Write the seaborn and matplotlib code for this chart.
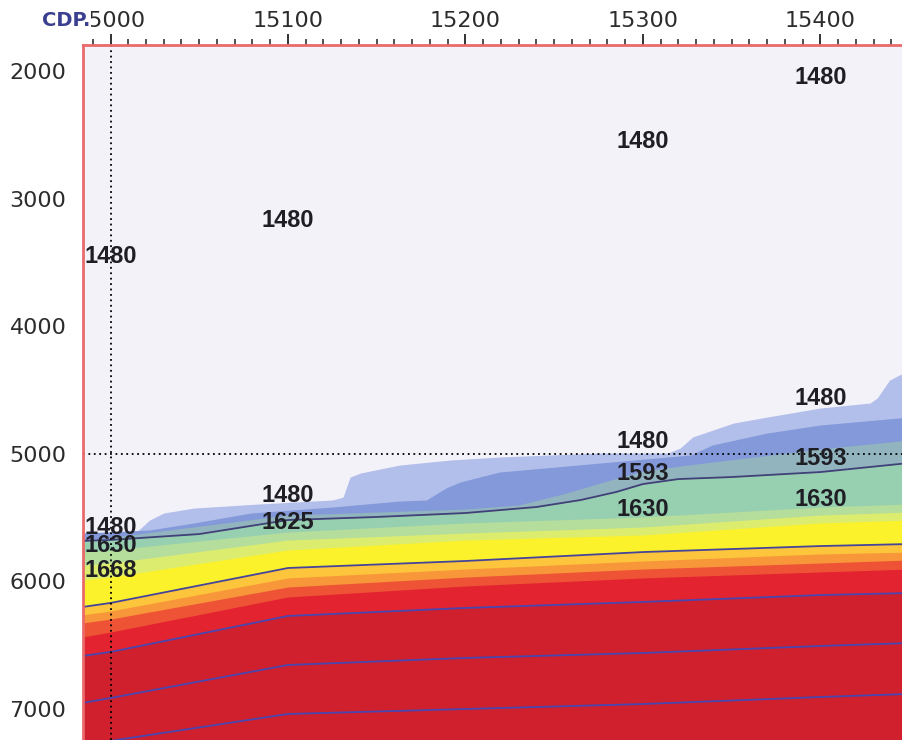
import numpy as np
import matplotlib
matplotlib.use("Agg")
import matplotlib.pyplot as plt
from matplotlib.ticker import MultipleLocator
import seaborn as sns

# ---- interval velocity section: interface depths (m) along CDP ----
# deeper, smooth interfaces share one set of control CDPs
cdp_deep = [14984, 15000, 15100, 15200, 15300, 15400, 15450]
light_green_top = [5770, 5754, 5613, 5542, 5495, 5417, 5393]
yellow_green_top = [5871, 5856, 5676, 5621, 5574, 5480, 5456]
yellow_top = [5989, 5966, 5754, 5676, 5636, 5542, 5519]
orange_yellow_top = [6201, 6169, 5895, 5840, 5770, 5723, 5707]
orange_top = [6263, 6232, 5973, 5903, 5840, 5785, 5770]
red_orange_top = [6326, 6295, 6044, 5966, 5903, 5856, 5832]
red_top = [6436, 6397, 6122, 6036, 5973, 5926, 5903]
horizon_3 = [6585, 6553, 6271, 6208, 6161, 6107, 6091]
horizon_4 = [6953, 6914, 6655, 6600, 6561, 6506, 6483]
horizon_5 = [7289, 7250, 7039, 7000, 6961, 6906, 6882]

# first picked horizon (top of the green layer)
cdp_h1 = [14984, 15000, 15050, 15100, 15150, 15200, 15240, 15265, 15285,
          15300, 15320, 15350, 15400, 15450]
horizon_1 = [5683, 5675, 5629, 5519, 5495, 5464, 5417, 5362, 5299,
             5237, 5198, 5182, 5143, 5072]

# blue-green layer above the first horizon
cdp_teal = [14984, 15100, 15200, 15230, 15255, 15280, 15300, 15330, 15400, 15450]
teal_top = [5683, 5480, 5433, 5401, 5315, 5213, 5135, 5080, 4962, 4892]

# medium blue layer
cdp_mblue = [14984, 15022, 15047, 15079, 15125, 15163, 15178, 15189, 15197,
             15219, 15276, 15314, 15327, 15339, 15370, 15400, 15450]
mblue_top = [5621, 5597, 5542, 5464, 5417, 5370, 5362, 5268, 5221,
             5143, 5072, 5025, 5009, 4931, 4837, 4774, 4712]

# light blue layer (sea floor of the water column)
cdp_lblue = [14984, 15014, 15022, 15030, 15047, 15084, 15125, 15131, 15135,
             15141, 15163, 15191, 15219, 15248, 15276, 15314, 15321, 15328,
             15351, 15370, 15400, 15428, 15432, 15439, 15450]
lblue_top = [5621, 5621, 5519, 5464, 5425, 5393, 5362, 5340, 5182,
             5150, 5088, 5049, 5025, 5009, 4994, 4994, 4955, 4868,
             4759, 4712, 4641, 4602, 4563, 4422, 4343]

# velocity annotations (m/s) at analysis locations
label_cdp = [15000, 15100, 15300, 15400, 15400, 15300, 15300, 15300,
             15400, 15400, 15100, 15100, 15000, 15000, 15000]
label_depth = [3450, 3168, 2549, 2047, 4563, 4900, 5158, 5440,
               5033, 5362, 5323, 5542, 5581, 5715, 5918]
label_text = ["1480", "1480", "1480", "1480", "1480", "1480", "1593", "1630",
              "1593", "1630", "1480", "1625", "1480", "1630", "1668"]

water_colour = "#f4f2f9"
layers = [
    (cdp_lblue, lblue_top, "#b3bfeb"),
    (cdp_mblue, mblue_top, "#8399d9"),
    (cdp_teal, teal_top, "#91b4bf"),
    (cdp_h1, horizon_1, "#97cfb1"),
    (cdp_deep, light_green_top, "#b5dd9c"),
    (cdp_deep, yellow_green_top, "#dcec6e"),
    (cdp_deep, yellow_top, "#fbf22c"),
    (cdp_deep, orange_yellow_top, "#fcc53c"),
    (cdp_deep, orange_top, "#f8963a"),
    (cdp_deep, red_orange_top, "#ee5336"),
    (cdp_deep, red_top, "#e3232f"),
    (cdp_deep, horizon_3, "#d01f2d"),
]

sns.set_style("white")
plt.rcParams["font.family"] = ["DejaVu Sans"]

fig = plt.figure(figsize=(9.02, 7.40), dpi=100)
fig.patch.set_facecolor("white")
W, H = 902, 740
ax = fig.add_axes([83 / W, 0, (W - 83) / W, (H - 45) / H])
ax.set_facecolor(water_colour)

x_lo, x_hi = 14984.5, 15446
y_top, y_bot = 1796, 7243
xx = np.linspace(14980, 15452, 1200)

for cdps, tops, colour in layers:
    top = np.interp(xx, cdps, tops)
    ax.fill_between(xx, top, 7600, color=colour, lw=0, zorder=1)

# picked horizons
for cdps, depths, colour in [
    (cdp_h1, horizon_1, "#414178"),
    (cdp_deep, orange_yellow_top, "#45449a"),
    (cdp_deep, horizon_3, "#4a46b0"),
    (cdp_deep, horizon_4, "#4a46b0"),
    (cdp_deep, horizon_5, "#4a46b0"),
]:
    sns.lineplot(x=cdps, y=depths, color=colour, lw=1.3, ax=ax,
                 estimator=None, sort=True, zorder=3)

# cursor cross-hair
ax.axvline(15000, color="black", lw=1.3, ls=(0, (1, 2)), zorder=4)
ax.axhline(5000, color="black", lw=1.3, ls=(0, (1, 2)), zorder=4)

for c, d, t in zip(label_cdp, label_depth, label_text):
    ax.text(c, d, t, ha="center", va="center", fontsize=17,
            family="Liberation Sans", weight="bold", color="#1e1e24",
            zorder=5)

ax.set_xlim(x_lo, x_hi)
ax.set_ylim(y_bot, y_top)

ax.xaxis.tick_top()
ax.xaxis.set_major_locator(MultipleLocator(100))
ax.xaxis.set_minor_locator(MultipleLocator(10))
ax.yaxis.set_major_locator(MultipleLocator(1000))
ax.yaxis.set_minor_locator(MultipleLocator(100))
ax.tick_params(axis="x", which="major", direction="out", length=8, width=1.4,
               color="#333333", pad=2, labelsize=16, labelcolor="#2c2c2c",
               top=True, bottom=False)
ax.tick_params(axis="x", which="minor", direction="out", length=4, width=1.2,
               color="#333333", top=True, bottom=False)
ax.tick_params(axis="y", which="major", direction="out", length=9, width=1.4,
               color="#333333", pad=3, labelsize=16, labelcolor="#2c2c2c")
ax.tick_params(axis="y", which="minor", direction="out", length=5, width=1.2,
               color="#333333")
ax.set_xlabel("")
ax.set_ylabel("")

for side in ("right", "bottom"):
    ax.spines[side].set_visible(False)
for side in ("top", "left"):
    ax.spines[side].set_color("#ea6a6a")
    ax.spines[side].set_linewidth(2.0)
    ax.spines[side].set_zorder(6)

fig.text(90 / W, 1 - 21 / H, "CDP.", ha="right", va="center", fontsize=14,
         weight="bold", color="#3b3f8f",
         bbox=dict(facecolor="white", edgecolor="none", pad=0.5))

fig.savefig("out.png", dpi=100)
